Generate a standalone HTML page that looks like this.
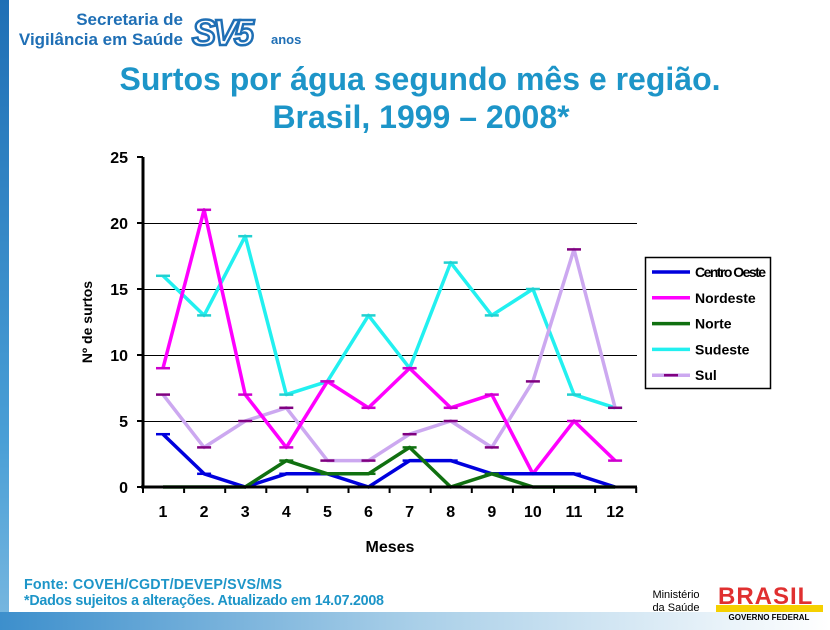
<!DOCTYPE html>
<html><head><meta charset="utf-8"><style>
body{margin:0;background:#fff;width:830px;height:630px;overflow:hidden;position:relative;font-family:"Liberation Sans",Arial,sans-serif}
</style></head><body>
<div style="position:absolute;left:0;top:0;width:9px;height:630px;background:linear-gradient(#1f6fb5,#4a9fd6 70%,#7ab8e0)"></div>
<div style="position:absolute;left:0;top:612px;width:830px;height:18px;background:linear-gradient(90deg,#3d8fcc,#a9cfe8 50%,#fff)"></div>
<svg id="s" width="830" height="630" style="position:absolute;left:0;top:0">
<text x="183" y="25" font-size="17" font-weight="bold" fill="#1f6fb5" text-anchor="end">Secretaria de</text>
<text x="183" y="45" font-size="17" font-weight="bold" fill="#1f6fb5" text-anchor="end">Vigilância em Saúde</text>
<text x="192" y="45" font-size="36" font-weight="bold" font-style="italic" fill="#fff" stroke="#1f6fb5" stroke-width="2.5" letter-spacing="-3">SV5</text>
<text x="271" y="44" font-size="13" font-weight="bold" fill="#1f6fb5">anos</text>
<text x="420" y="90" font-size="32" font-weight="bold" fill="#1d95c8" text-anchor="middle">Surtos por água segundo mês e região.</text>
<text x="421" y="128" font-size="32" font-weight="bold" fill="#1d95c8" text-anchor="middle">Brasil, 1999 – 2008*</text>
<text x="24" y="589" font-size="14.3" font-weight="bold" fill="#1d95c8" textLength="258">Fonte: COVEH/CGDT/DEVEP/SVS/MS</text>
<text x="24" y="605" font-size="14.3" font-weight="bold" fill="#1d95c8" textLength="360">*Dados sujeitos a alterações. Atualizado em 14.07.2008</text>
<text x="676" y="598" font-size="11" fill="#000" text-anchor="middle">Ministério</text>
<text x="676" y="611" font-size="11" fill="#000" text-anchor="middle">da Saúde</text>
<text x="718" y="604" font-size="24" font-weight="bold" fill="#e03030" letter-spacing="1">BRASIL</text>
<rect x="716" y="605" width="107" height="7" fill="#f5d000"/>
<text x="769" y="620" font-size="8" font-weight="bold" text-anchor="middle">GOVERNO FEDERAL</text>
<g id="g"></g>
</svg>
<script>
var g=document.getElementById('g'),h='';
function X(i){return 163+41.1*i}function Y(v){return 487-13.2*v}
for(var v=5;v<=20;v+=5){var yy=Math.round(Y(v))+0.5;h+='<line x1="143" x2="637" y1="'+yy+'" y2="'+yy+'" stroke="#000" stroke-width="1"/>';}
for(v=0;v<=25;v+=5){h+='<line x1="137" x2="143" y1="'+Y(v)+'" y2="'+Y(v)+'" stroke="#000" stroke-width="2"/>';
h+='<text x="128" y="'+(Y(v)+6)+'" font-size="16" font-weight="bold" text-anchor="end">'+v+'</text>';}
for(var i=0;i<=12;i++)h+='<line x1="'+(143+41.1*i)+'" x2="'+(143+41.1*i)+'" y1="487" y2="493" stroke="#000" stroke-width="2"/>';
for(i=0;i<12;i++)h+='<text x="'+X(i)+'" y="517" font-size="16" font-weight="bold" text-anchor="middle">'+(i+1)+'</text>';
h+='<text x="390" y="552" font-size="16" font-weight="bold" text-anchor="middle">Meses</text>';
h+='<text transform="translate(92,322) rotate(-90)" font-size="14" font-weight="bold" text-anchor="middle">Nº de surtos</text>';
var S=[["Centro Oeste","#0000dd","#0000dd",[4,1,0,1,1,0,2,2,1,1,1,0]],
["Nordeste","#ff00ff","#cc00cc",[9,21,7,3,8,6,9,6,7,1,5,2]],
["Norte","#107010","#107010",[0,0,0,2,1,1,3,0,1,0,0,0]],
["Sudeste","#22f0f0","#22d0d0",[16,13,19,7,8,13,9,17,13,15,7,6]],
["Sul","#cca8f0","#800080",[7,3,5,6,2,2,4,5,3,8,18,6]]];
var order=[3,4,1,0,2];
order.forEach(function(k){var s=S[k],p=s[3].map(function(v,i){return X(i)+','+Y(v)}).join(' ');
h+='<polyline points="'+p+'" fill="none" stroke="'+s[1]+'" stroke-width="3.5" stroke-linejoin="round"/>';
s[3].forEach(function(v,i){h+='<line x1="'+(X(i)-7)+'" x2="'+(X(i)+7)+'" y1="'+Y(v)+'" y2="'+Y(v)+'" stroke="'+s[2]+'" stroke-width="2.5"/>'});});
h+='<line x1="143" x2="143" y1="157" y2="488" stroke="#000" stroke-width="3"/><line x1="141" x2="637" y1="487" y2="487" stroke="#000" stroke-width="3"/>';
h+='<rect x="645.5" y="257.5" width="125" height="131" fill="#fff" stroke="#000" stroke-width="1.5"/>';
S.forEach(function(s,i){var y=272+25.8*i;h+='<line x1="652" x2="690" y1="'+y+'" y2="'+y+'" stroke="'+s[1]+'" stroke-width="3.5"/>';
if(i==4)h+='<line x1="664" x2="678" y1="'+y+'" y2="'+y+'" stroke="#800080" stroke-width="2.5"/>';
h+='<text x="695" y="'+(y+5)+'" font-size="14" font-weight="bold"'+(i==0?' textLength="71"':'')+'>'+s[0]+'</text>';});
g.innerHTML=h;
</script>
</body></html>
